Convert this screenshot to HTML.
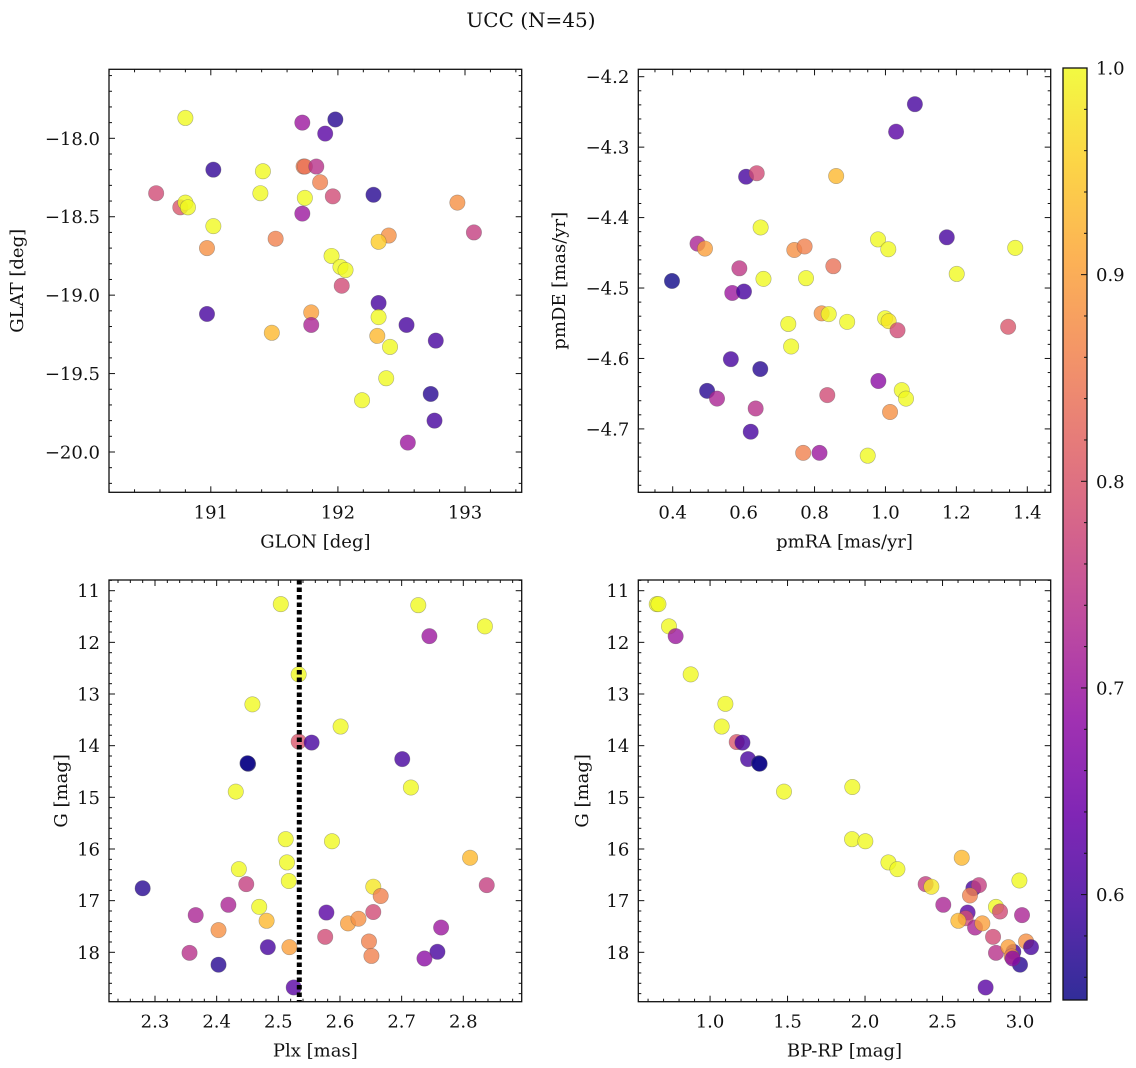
<!DOCTYPE html>
<html><head><meta charset="utf-8"><style>
html,body{margin:0;padding:0;background:#fff}
svg{display:block;font-family:"DejaVu Serif","Liberation Serif",serif}
</style></head><body>
<svg id="fig" width="1136" height="1068" viewBox="0 0 1136 1068" xmlns="http://www.w3.org/2000/svg">
<text x="531" y="27" font-size="20" text-anchor="middle" fill="#111">UCC (N=45)</text>
</svg>
<script>
const p1Glon=[190.80,190.57,190.76,190.80,190.82,191.02,191.02,190.97,190.97,191.41,191.39,191.51,191.48,191.72,191.98,191.90,191.73,191.74,191.83,191.74,191.86,191.72,191.96,191.95,192.02,192.06,192.03,191.79,191.79,192.28,192.40,192.32,192.32,192.32,192.31,192.41,192.54,192.38,192.19,192.73,192.77,192.76,192.55,192.94,193.07];
const p1Glat=[-17.87,-18.35,-18.44,-18.41,-18.44,-18.20,-18.56,-18.70,-19.12,-18.21,-18.35,-18.64,-19.24,-17.90,-17.88,-17.97,-18.18,-18.18,-18.18,-18.38,-18.28,-18.48,-18.37,-18.75,-18.82,-18.84,-18.94,-19.11,-19.19,-18.36,-18.62,-18.66,-19.05,-19.14,-19.26,-19.33,-19.19,-19.53,-19.67,-19.63,-19.29,-19.80,-19.94,-18.41,-18.60];
const p1Prob=[1.0,0.78,0.8,1.0,1.0,0.58,1.0,0.88,0.6,1.0,1.0,0.86,0.93,0.7,0.57,0.62,0.86,0.84,0.74,1.0,0.86,0.7,0.78,1.0,1.0,1.0,0.78,0.9,0.72,0.57,0.88,0.95,0.6,1.0,0.93,1.0,0.6,1.0,1.0,0.57,0.6,0.6,0.7,0.88,0.76];

const p2PmRA=[1.083,1.030,0.607,0.637,0.861,0.648,0.979,1.008,1.173,1.366,0.470,0.491,0.743,0.772,0.853,0.588,0.398,0.568,0.601,0.656,0.776,1.201,0.726,0.820,0.840,0.892,0.999,1.009,1.034,1.346,0.734,0.564,0.647,0.980,0.497,0.525,0.634,0.836,1.046,1.058,1.013,0.620,0.768,0.814,0.950];
const p2PmDE=[-4.239,-4.278,-4.342,-4.337,-4.341,-4.414,-4.431,-4.445,-4.428,-4.443,-4.437,-4.444,-4.446,-4.441,-4.469,-4.472,-4.490,-4.507,-4.505,-4.487,-4.486,-4.480,-4.551,-4.536,-4.537,-4.548,-4.543,-4.547,-4.560,-4.555,-4.583,-4.601,-4.615,-4.632,-4.646,-4.657,-4.671,-4.652,-4.645,-4.657,-4.676,-4.704,-4.734,-4.734,-4.738];
const p2Prob=[0.6,0.62,0.6,0.78,0.93,1.0,1.0,1.0,0.6,1.0,0.72,0.9,0.88,0.86,0.84,0.75,0.55,0.7,0.6,1.0,1.0,1.0,1.0,0.88,1.0,1.0,1.0,0.98,0.78,0.8,1.0,0.6,0.57,0.68,0.57,0.72,0.74,0.78,1.0,1.0,0.88,0.6,0.86,0.7,1.0];

const p3Plx=[2.504,2.727,2.835,2.745,2.533,2.458,2.601,2.533,2.554,2.451,2.450,2.701,2.431,2.715,2.512,2.587,2.514,2.436,2.517,2.811,2.280,2.448,2.654,2.666,2.838,2.419,2.469,2.366,2.578,2.654,2.481,2.613,2.630,2.403,2.764,2.576,2.647,2.356,2.483,2.518,2.651,2.758,2.737,2.403,2.525];
const p3G=[11.26,11.28,11.69,11.88,12.62,13.20,13.63,13.92,13.94,14.35,14.34,14.26,14.89,14.81,15.81,15.85,16.26,16.39,16.62,16.17,16.76,16.68,16.73,16.91,16.70,17.08,17.12,17.28,17.23,17.22,17.39,17.44,17.35,17.57,17.52,17.70,17.79,18.01,17.90,17.90,18.07,17.99,18.12,18.24,18.68];
const p3Prob=[1.0,1.0,1.0,0.7,1.0,1.0,1.0,0.8,0.6,0.55,0.55,0.6,1.0,1.0,1.0,1.0,1.0,1.0,1.0,0.93,0.57,0.76,0.98,0.86,0.76,0.72,1.0,0.72,0.62,0.78,0.93,0.9,0.88,0.88,0.7,0.78,0.86,0.74,0.6,0.9,0.86,0.6,0.68,0.57,0.62];
const p3PlxMedian=[2.534];

const p4BpRp=[0.656,0.667,0.735,0.778,0.875,1.099,1.075,1.172,1.209,1.245,1.316,1.320,1.477,1.918,1.916,2.002,2.151,2.209,2.624,2.391,2.428,2.699,2.735,2.677,2.996,2.505,2.662,2.649,2.602,2.710,2.757,2.845,2.871,3.013,2.826,2.845,2.957,2.925,2.946,3.000,3.039,3.071,2.778,2.953];
const p4G=[11.26,11.26,11.69,11.88,12.62,13.19,13.63,13.93,13.94,14.26,14.34,14.35,14.89,14.80,15.81,15.85,16.26,16.39,16.17,16.68,16.73,16.76,16.70,16.90,16.61,17.08,17.23,17.34,17.39,17.52,17.44,17.12,17.21,17.28,17.70,18.01,17.99,17.90,18.08,18.24,17.79,17.90,18.68,18.12];
const p4Prob=[1.0,1.0,1.0,0.7,1.0,1.0,1.0,0.8,0.6,0.6,0.55,0.55,1.0,1.0,1.0,1.0,1.0,1.0,0.93,0.76,0.98,0.6,0.76,0.86,1.0,0.72,0.62,0.78,0.93,0.72,0.9,1.0,0.78,0.72,0.78,0.74,0.6,0.9,0.86,0.57,0.88,0.6,0.62,0.68];

const cbarTicks=[0.6,0.7,0.8,0.9,1.0];
const p1XTicks=[191,192,193], p1YTicks=[-18.0,-18.5,-19.0,-19.5,-20.0];
const p2XTicks=[0.4,0.6,0.8,1.0,1.2,1.4], p2YTicks=[-4.2,-4.3,-4.4,-4.5,-4.6,-4.7];
const p3XTicks=[2.3,2.4,2.5,2.6,2.7,2.8], gTicks=[11,12,13,14,15,16,17,18];
const p4XTicks=[1.0,1.5,2.0,2.5,3.0];

const VMIN=0.549, VMAX=1.0;
const NS="http://www.w3.org/2000/svg";
const svg=document.getElementById('fig');
const FS=18;
const plasma=[[13,8,135],[65,4,157],[106,0,168],[143,13,164],[177,42,144],[204,71,120],[225,100,98],[242,132,75],[252,166,54],[252,206,37],[240,249,33]];
function cmap(v){let t=(v-VMIN)/(VMAX-VMIN);t=Math.max(0,Math.min(1,t))*10;const i=Math.min(9,Math.floor(t)),f=t-i;
const a=plasma[i],b=plasma[i+1];return 'rgb('+a.map((c,k)=>Math.round(c+(b[k]-c)*f)).join(',')+')';}
function mk(tag,attrs,parent){const e=document.createElementNS(NS,tag);for(const k in attrs)e.setAttribute(k,attrs[k]);(parent||svg).appendChild(e);return e;}
function fmt(v,d){const s=Math.abs(v).toFixed(d);return (v<0?'\u2212':'')+s;}

function panel(c){
  const g=mk('g',{});
  
  
  const sx=v=>c.x0+(v-c.xmin)/(c.xmax-c.xmin)*(c.x1-c.x0);
  const sy=v=>c.inv? c.y0+(v-c.ymin)/(c.ymax-c.ymin)*(c.y1-c.y0) : c.y1-(v-c.ymin)/(c.ymax-c.ymin)*(c.y1-c.y0);
  for(let i=0;i<c.xs.length;i++){
    const p=mk('circle',{cx:sx(c.xs[i]),cy:sy(c.ys[i]),r:7.7,fill:cmap(c.cs[i]),'fill-opacity':0.8,stroke:'#555','stroke-opacity':0.45,'stroke-width':0.6},g);
    
    
  }
  if(c.vline){
    const l=mk('line',{x1:sx(c.vline[0]),x2:sx(c.vline[0]),y1:c.y0,y2:c.y1,stroke:'#000','stroke-width':5,'stroke-dasharray':'4.5 3'},g);
    
    
  }
  const tk=mk('g',{stroke:'#111','stroke-width':1},g);
  
  
  const eps=1e-9;
  for(let v=Math.ceil(c.xmin/c.xminor-eps)*c.xminor;v<=c.xmax+eps;v+=c.xminor){
    const x=sx(v);const major=c.xt.some(t=>Math.abs(t-v)<c.xminor/3);const L=major?6:3;
    mk('line',{x1:x,x2:x,y1:c.y1,y2:c.y1-L},tk);mk('line',{x1:x,x2:x,y1:c.y0,y2:c.y0+L},tk);
  }
  for(let v=Math.ceil(Math.min(c.ymin,c.ymax)/c.yminor-eps)*c.yminor;v<=Math.max(c.ymin,c.ymax)+eps;v+=c.yminor){
    const y=sy(v);const major=c.yt.some(t=>Math.abs(t-v)<c.yminor/3);const L=major?6:3;
    mk('line',{x1:c.x0,x2:c.x0+L,y1:y,y2:y},tk);mk('line',{x1:c.x1,x2:c.x1-L,y1:y,y2:y},tk);
  }
  c.xt.forEach(v=>{const t=mk('text',{x:sx(v),y:c.y1+26,'font-size':FS,'text-anchor':'middle',fill:'#111'},g);t.textContent=fmt(v,c.xd);
    });
  c.yt.forEach(v=>{const t=mk('text',{x:c.x0-9,y:sy(v)+6.5,'font-size':FS,'text-anchor':'end',fill:'#111'},g);t.textContent=fmt(v,c.yd);
    });
  const fr=mk('rect',{x:c.x0,y:c.y0,width:c.x1-c.x0,height:c.y1-c.y0,fill:'none',stroke:'#111','stroke-width':1.3},g);
  
  const xl=mk('text',{x:(c.x0+c.x1)/2,y:c.y1+55,'font-size':FS,'text-anchor':'middle',fill:'#111'},g);xl.textContent=c.xlabel;
  
  const yl=mk('text',{x:0,y:0,'font-size':FS,'text-anchor':'middle',fill:'#111',transform:`translate(${c.ylx},${(c.y0+c.y1)/2}) rotate(-90)`},g);yl.textContent=c.ylabel;
  
}

panel({name:'glon-glat-panel',x0:109,x1:521.7,y0:69.3,y1:492.3,xmin:190.199,xmax:193.446,ymin:-20.257,ymax:-17.56,
  xs:p1Glon,ys:p1Glat,cs:p1Prob,xt:p1XTicks,yt:p1YTicks,xminor:0.2,yminor:0.1,xd:0,yd:1,xlabel:'GLON [deg]',ylabel:'GLAT [deg]',ylx:23});
panel({name:'proper-motion-panel',x0:638.3,x1:1050.7,y0:69.3,y1:492.3,xmin:0.303,xmax:1.466,ymin:-4.790,ymax:-4.1895,
  xs:p2PmRA,ys:p2PmDE,cs:p2Prob,xt:p2XTicks,yt:p2YTicks,xminor:0.05,yminor:0.02,xd:1,yd:1,xlabel:'pmRA [mas/yr]',ylabel:'pmDE [mas/yr]',ylx:565});
panel({name:'plx-g-panel',x0:109,x1:521.7,y0:580,y1:1001.7,xmin:2.2254,xmax:2.8947,ymin:10.793,ymax:18.956,inv:true,
  xs:p3Plx,ys:p3G,cs:p3Prob,xt:p3XTicks,yt:gTicks,xminor:0.02,yminor:0.2,xd:1,yd:0,xlabel:'Plx [mas]',ylabel:'G [mag]',ylx:67,vline:p3PlxMedian});
panel({name:'cmd-panel',x0:638.3,x1:1050.7,y0:580,y1:1001.7,xmin:0.537,xmax:3.198,ymin:10.793,ymax:18.956,inv:true,
  xs:p4BpRp,ys:p4G,cs:p4Prob,xt:p4XTicks,yt:gTicks,xminor:0.1,yminor:0.2,xd:1,yd:0,xlabel:'BP-RP [mag]',ylabel:'G [mag]',ylx:588});

(function(){
  const x0=1063,x1=1087,y0=68,y1=1000;
  const g=mk('g',{});
  
  
  const defs=mk('defs',{},g);
  const lg=mk('linearGradient',{id:'cb',x1:0,y1:1,x2:0,y2:0},defs);
  for(let i=0;i<=20;i++){const v=VMIN+(VMAX-VMIN)*i/20;mk('stop',{offset:(i/20),'stop-color':cmap(v),'stop-opacity':0.85},lg);}
  mk('rect',{x:x0,y:y0,width:x1-x0,height:y1-y0,fill:'url(#cb)',stroke:'#111','stroke-width':1.3},g);
  const sy=v=>y1-(v-VMIN)/(VMAX-VMIN)*(y1-y0);
  for(let v=0.56;v<=1.0001;v+=0.02){const y=sy(v);const major=cbarTicks.some(t=>Math.abs(t-v)<0.005);
    mk('line',{x1:x1,x2:x1-(major?6:3),y1:y,y2:y,stroke:'#111'},g);}
  cbarTicks.forEach(v=>{const t=mk('text',{x:x1+9,y:sy(v)+6.5,'font-size':FS,fill:'#111'},g);t.textContent=v.toFixed(1);
    });
})();
</script>
</body></html>
